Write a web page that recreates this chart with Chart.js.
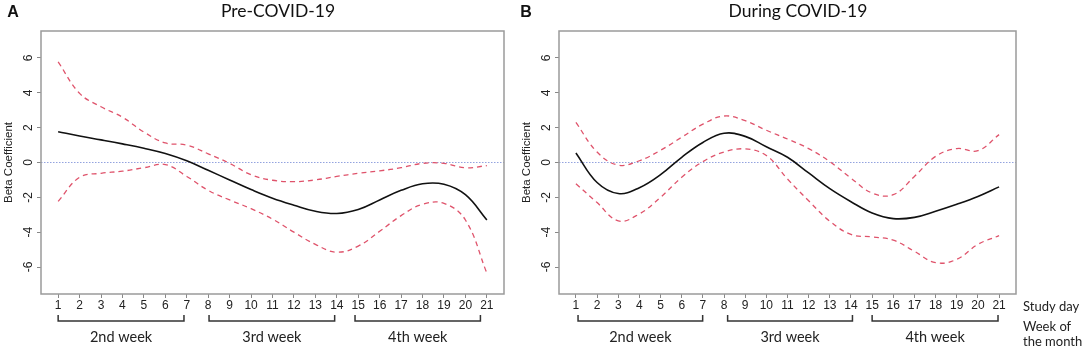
<html>
<head>
	<title>Beta coefficient by study day</title>
	<meta charset="utf-8">
	<script src="https://cdn.jsdelivr.net/npm/chart.js"></script>
	<style>
		body { margin: 0; background: #fff; }
		canvas { position: absolute; top: 0; }
		#pre { left: 0; }
		#during { left: 518px; }
	</style>
</head>
<body>
	<canvas id="pre" width="540" height="348"></canvas>
	<canvas id="during" width="566" height="348"></canvas>
<script>
	const days = [1, 2, 3, 4, 5, 6, 7, 8, 9, 10, 11, 12, 13, 14, 15, 16, 17, 18, 19, 20, 21];
	const yTicks = [-6, -4, -2, 0, 2, 4, 6];
	const weekLabels = ['2nd week', '3rd week', '4th week'];

	// Pre-COVID-19
	const preFit   = [1.77, 1.52, 1.3, 1.07, 0.82, 0.52, 0.1, -0.45, -1.0, -1.55, -2.05, -2.45, -2.8, -2.93, -2.7, -2.15, -1.6, -1.22, -1.25, -1.85, -3.3];
	const preUpper = [5.78, 3.97, 3.2, 2.6, 1.75, 1.12, 1.0, 0.5, -0.05, -0.7, -1.02, -1.1, -1.0, -0.8, -0.62, -0.48, -0.3, -0.05, -0.05, -0.3, -0.18];
	const preLower = [-2.23, -0.85, -0.62, -0.5, -0.3, -0.12, -0.8, -1.6, -2.15, -2.65, -3.25, -4.0, -4.7, -5.15, -4.8, -3.95, -3.05, -2.4, -2.35, -3.3, -6.35];

	// During COVID-19
	const durFit   = [0.55, -1.15, -1.78, -1.45, -0.7, 0.3, 1.15, 1.68, 1.5, 0.9, 0.3, -0.6, -1.5, -2.25, -2.9, -3.22, -3.15, -2.8, -2.4, -1.95, -1.4];
	const durUpper = [2.3, 0.6, -0.15, 0.1, 0.7, 1.45, 2.2, 2.67, 2.4, 1.85, 1.35, 0.8, 0.05, -0.9, -1.75, -1.85, -0.8, 0.35, 0.8, 0.68, 1.6];
	const durLower = [-1.22, -2.3, -3.35, -2.95, -2.0, -0.85, 0.05, 0.6, 0.78, 0.4, -0.95, -2.2, -3.37, -4.13, -4.27, -4.46, -5.1, -5.75, -5.56, -4.7, -4.2];

	// bracket ends (study day) for each week
	const preWeeks = [[1, 6.87], [8.04, 13.9], [14.85, 20.7]];
	const durWeeks = [[1.1, 6.99], [8.17, 14.07], [15.0, 20.95]];

	const decor = {
		id: 'decor',
		beforeDatasetsDraw(chart, args, o) {
			const ctx = chart.ctx, a = chart.chartArea;
			const y0 = chart.scales.y.getPixelForValue(0);
			ctx.save();
			ctx.strokeStyle = 'rgba(120, 140, 215, 0.8)';
			ctx.lineWidth = 1.2;
			ctx.setLineDash([1.5, 1.5]);
			ctx.beginPath();
			ctx.moveTo(a.left, y0);
			ctx.lineTo(a.right, y0);
			ctx.stroke();
			ctx.restore();
		},
		afterDraw(chart, args, o) {
			const ctx = chart.ctx, a = chart.chartArea;
			const x = chart.scales.x, y = chart.scales.y;
			ctx.save();
			// box
			ctx.strokeStyle = '#9a9a9a';
			ctx.lineWidth = 1.5;
			ctx.strokeRect(a.left, a.top, a.right - a.left, a.bottom - a.top);

			// rotated y tick labels
			ctx.fillStyle = '#222';
			ctx.font = '12px "Liberation Sans", Arial';
			ctx.textAlign = 'center';
			ctx.textBaseline = 'middle';
			yTicks.forEach(v => {
				ctx.save();
				ctx.translate(a.left - 12, y.getPixelForValue(v));
				ctx.rotate(-Math.PI / 2);
				ctx.fillText(String(v), 0, 0);
				ctx.restore();
			});

			// y axis title
			ctx.save();
			ctx.translate(o.yTitleX, (a.top + a.bottom) / 2);
			ctx.rotate(-Math.PI / 2);
			ctx.font = '11.5px "Liberation Sans", Arial';
			ctx.fillText('Beta Coefficient', 0, 0);
			ctx.restore();

			// week brackets
			ctx.strokeStyle = '#333';
			ctx.lineWidth = 1.5;
			ctx.font = '14.5px Lato, "Open Sans"';
			o.weeks.forEach((w, i) => {
				const x1 = x.getPixelForValue(w[0]), x2 = x.getPixelForValue(w[1]);
				ctx.beginPath();
				ctx.moveTo(x1, 315);
				ctx.lineTo(x1, 321);
				ctx.lineTo(x2, 321);
				ctx.lineTo(x2, 315);
				ctx.stroke();
				ctx.fillText(weekLabels[i], (x1 + x2) / 2, 337);
			});

			// title and panel letter
			ctx.font = '17.5px Lato, "Open Sans"';
			ctx.fillStyle = '#111';
			ctx.fillText(o.title, o.titleX, 11);
			ctx.font = 'bold 16px "Liberation Sans", Arial';
			ctx.fillText(o.letter, o.letterX, 13);

			if (o.notes) {
				ctx.textAlign = 'left';
				ctx.font = '13px Lato, "Open Sans"';
				ctx.fillStyle = '#222';
				ctx.fillText('Study day', o.notesX, 307);
				ctx.fillText('Week of', o.notesX, 327);
				ctx.fillText('the month', o.notesX, 342);
			}
			ctx.restore();
		}
	};

	const pts = vals => days.map((d, i) => ({ x: d, y: vals[i] }));

	function makeChart(id, fit, upper, lower, cfg) {
		return new Chart(document.getElementById(id), {
			type: 'line',
			data: {
				datasets: [
					{ data: pts(upper), borderColor: '#DF536B', borderWidth: 1.3, borderDash: [5, 4], pointRadius: 0, tension: 0.4 },
					{ data: pts(lower), borderColor: '#DF536B', borderWidth: 1.3, borderDash: [5, 4], pointRadius: 0, tension: 0.4 },
					{ data: pts(fit), borderColor: '#111', borderWidth: 1.6, pointRadius: 0, tension: 0.4 }
				]
			},
			options: {
				responsive: false,
				animation: false,
				layout: { padding: { left: 0, top: 31, right: cfg.padRight, bottom: 0 } },
				plugins: { legend: { display: false }, tooltip: { enabled: false }, decor: cfg },
				scales: {
					x: {
						type: 'linear', min: 0.2, max: 21.8,
						afterBuildTicks: s => { s.ticks = days.map(v => ({ value: v })); },
						afterFit: s => { s.height = 54; },
						grid: { drawOnChartArea: false, tickLength: 4, color: '#888' },
						border: { display: false },
						ticks: { padding: 0, color: '#222', maxRotation: 0, autoSkip: false, font: { family: '"Liberation Sans", Arial', size: 12 } }
					},
					y: {
						min: -7.55, max: 7.55,
						afterBuildTicks: s => { s.ticks = yTicks.map(v => ({ value: v })); },
						afterFit: s => { s.width = 41; },
						grid: { drawOnChartArea: false, tickLength: 4, color: '#888' },
						border: { display: false },
						ticks: { color: 'rgba(0,0,0,0)' }
					}
				}
			},
			plugins: [decor]
		});
	}

	const preChart = makeChart('pre', preFit, preUpper, preLower,
		{ padRight: 36, title: 'Pre-COVID-19', titleX: 278, letter: 'A', letterX: 13, yTitleX: 9, weeks: preWeeks });
	const durChart = makeChart('during', durFit, durUpper, durLower,
		{ padRight: 68, title: 'During COVID-19', titleX: 280, letter: 'B', letterX: 8, yTitleX: 9, weeks: durWeeks, notes: true, notesX: 505 });
</script>
</body>
</html>
